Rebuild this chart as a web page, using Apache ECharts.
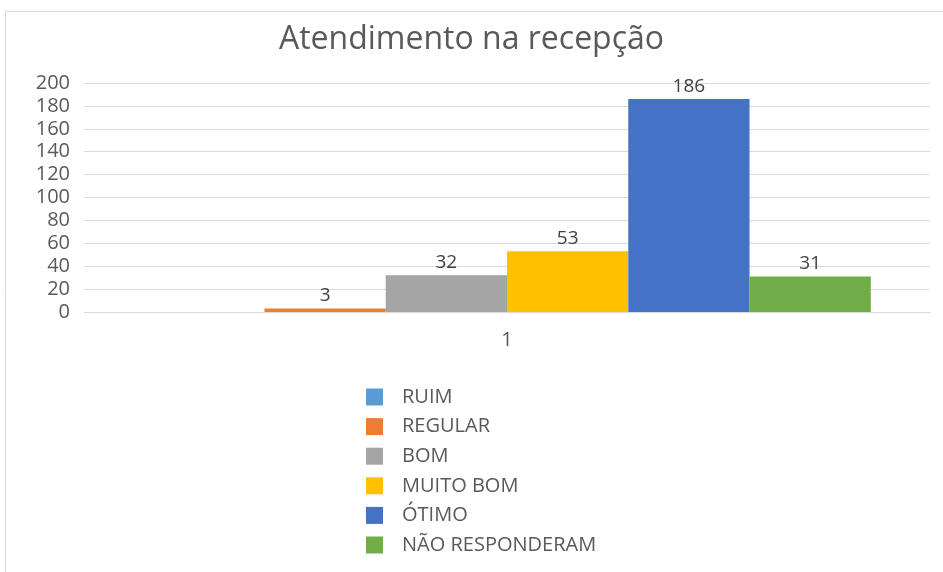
<!DOCTYPE html>
<html>
<head>
<meta charset="utf-8">
<script src="https://cdn.jsdelivr.net/npm/echarts@6/dist/echarts.min.js"></script>
<style>
  html, body { margin: 0; padding: 0; background: #fff; }
  #main { width: 943px; height: 572px; }
</style>
</head>
<body>
<div id="main"></div>
<script>
const categories = ["1"];
const seriesNames = ["RUIM", "REGULAR", "BOM", "MUITO BOM", "ÓTIMO", "NÃO RESPONDERAM"];
const ruim = [null];
const regular = [3];
const bom = [32];
const muitoBom = [53];
const otimo = [186];
const naoResponderam = [31];
const yTicks = [0, 20, 40, 60, 80, 100, 120, 140, 160, 180, 200];

const colors = ["#5b9bd5", "#ed7d31", "#a5a5a5", "#ffc000", "#4472c4", "#70ad47"];
const values = [ruim, regular, bom, muitoBom, otimo, naoResponderam];
const font = "'Open Sans', 'Liberation Sans', sans-serif";

window.onload = function () {
  const myChart = echarts.init(document.getElementById("main"));

  const series = seriesNames.map((name, i) => ({
    name: name,
    type: "bar",
    data: values[i],
    barGap: "0%",
    barCategoryGap: "14%",
    itemStyle: { color: colors[i] },
    label: {
      show: true,
      position: "top",
      distance: 3,
      color: "#404040",
      fontSize: 19,
      fontFamily: font
    }
  }));

  const options = {
    animation: false,
    backgroundColor: "#fff",
    title: {
      text: "Atendimento na recepção",
      left: "center",
      top: 19,
      textStyle: {
        color: "#595959",
        fontSize: 32,
        fontWeight: "normal",
        fontFamily: font
      }
    },
    graphic: [{
      type: "rect",
      shape: { x: 5.5, y: 11.5, width: 960, height: 620 },
      style: { fill: "none", stroke: "#d9d9d9", lineWidth: 1 },
      silent: true
    }],
    legend: {
      orient: "vertical",
      left: 361,
      top: 382,
      itemWidth: 17,
      itemHeight: 17,
      itemGap: 9.6,
      icon: "rect",
      textStyle: {
        color: "#595959",
        fontSize: 20,
        lineHeight: 20,
        fontFamily: font,
        padding: [0, 0, 0, 14]
      },
      data: seriesNames
    },
    grid: { left: 84, right: 13, top: 83, bottom: 260 },
    xAxis: {
      type: "category",
      data: categories,
      axisLine: { show: true, lineStyle: { color: "#d9d9d9" } },
      axisTick: { show: false },
      axisLabel: { color: "#595959", fontSize: 20, fontFamily: font, margin: 18 }
    },
    yAxis: {
      type: "value",
      min: yTicks[0],
      max: yTicks[yTicks.length - 1],
      interval: 20,
      axisLine: { show: false },
      axisTick: { show: false },
      splitLine: { lineStyle: { color: "#d9d9d9", width: 1 } },
      axisLabel: { color: "#595959", fontSize: 20, fontFamily: font, margin: 14 }
    },
    series: series
  };

  myChart.setOption(options);
};
</script>
</body>
</html>
